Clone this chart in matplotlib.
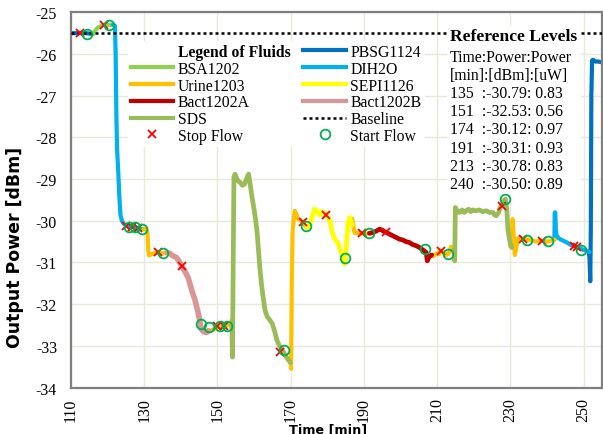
import matplotlib
matplotlib.use("Agg")
import matplotlib.pyplot as plt
from matplotlib.lines import Line2D
from matplotlib.patches import Rectangle

plt.rcParams['font.family'] = ['Liberation Serif', 'DejaVu Serif']
plt.rcParams['axes.unicode_minus'] = False

# --- traces, one list per run of the same fluid (time [min], power [dBm]) ---
pbsg_t = [[110.0, 112.0, 114.0, 116.0],
          [251.4, 251.6, 251.8, 251.95, 252.1, 252.3, 252.6, 253.2, 254.0, 255.0]]
pbsg_p = [[-25.5, -25.5, -25.5, -25.52],
          [-30.74, -30.9, -31.45, -30.2, -27.0, -26.15, -26.14, -26.18, -26.18, -26.2]]

bsa_t = [116.0, 116.8, 117.4, 118.2, 119.0, 119.8, 120.5, 121.4]
bsa_p = [-25.52, -25.42, -25.36, -25.33, -25.3, -25.3, -25.3, -25.3]

dih2o_t = [[121.4, 122.0, 122.2, 122.4, 122.6, 122.9, 123.2, 123.5, 123.9, 124.5,
            125.2, 126.2, 127.2, 128.2, 129.2, 129.9],
           [242.0, 242.1, 242.25, 242.4, 242.6, 243.2, 244.0, 245.0, 246.0, 247.0,
            248.0, 249.0, 250.0, 251.0, 251.6]]
dih2o_p = [[-25.3, -25.32, -26.0, -27.5, -28.3, -28.8, -29.4, -29.85, -30.0, -30.08,
            -30.12, -30.14, -30.15, -30.17, -30.2, -30.2],
           [-30.45, -29.8, -29.8, -30.2, -30.35, -30.42, -30.46, -30.5, -30.55, -30.6,
            -30.62, -30.66, -30.7, -30.72, -30.75]]

urine_t = [[129.8, 130.5, 130.9, 131.1, 131.3, 132.0, 133.0, 134.0, 135.0, 136.0, 136.5],
           [147.3, 148.0, 149.0, 150.0, 151.0, 152.0, 153.0, 153.8, 154.2],
           [169.9, 170.1, 170.3, 170.5, 170.8, 171.1, 171.6, 172.0, 172.6, 173.2, 173.8, 174.4],
           [186.8, 187.0, 187.3, 187.6, 188.0, 188.5, 189.0, 189.5, 190.0, 190.5, 191.0, 191.6],
           [208.5, 209.0, 209.5, 210.0, 210.5, 211.0, 211.5, 212.0, 212.5, 213.0, 213.5,
            213.8, 214.2, 214.6],
           [229.9, 230.2, 230.4, 230.6, 230.8, 231.0, 231.2, 231.5, 232.0, 233.0, 234.0,
            235.0, 236.0, 237.0, 238.0, 239.0, 240.0, 241.0, 242.1]]
urine_p = [[-30.2, -30.18, -30.3, -30.7, -30.83, -30.8, -30.77, -30.76, -30.78, -30.78, -30.76],
           [-32.62, -32.64, -32.6, -32.55, -32.53, -32.52, -32.5, -32.45, -32.4],
           [-33.3, -33.55, -31.5, -30.3, -30.0, -29.76, -29.85, -29.96, -29.98, -30.03, -30.1, -30.15],
           [-29.95, -30.05, -30.25, -30.3, -30.28, -30.3, -30.3, -30.3, -30.3, -30.32, -30.3, -30.3],
           [-30.82, -30.85, -30.8, -30.78, -30.8, -30.72, -30.75, -30.8, -30.82, -30.8, -30.72,
            -30.62, -30.65, -30.7],
           [-30.6, -30.64, -30.3, -29.96, -30.2, -30.6, -30.82, -30.7, -30.42, -30.42, -30.45,
            -30.45, -30.47, -30.5, -30.47, -30.48, -30.5, -30.48, -30.45]]

bact_b_t = [136.3, 137.0, 137.8, 138.8, 139.6, 140.2, 141.0, 142.0, 142.9, 143.8, 144.5,
            145.2, 145.6, 146.2, 147.0, 147.5]
bact_b_p = [-30.76, -30.78, -30.84, -30.88, -30.98, -31.08, -31.2, -31.36, -31.64, -31.88,
            -32.12, -32.4, -32.6, -32.66, -32.68, -32.64]

sds_t = [[153.9, 154.1, 154.3, 154.5, 154.8, 155.2, 155.7, 156.2, 156.8, 157.4, 158.0, 158.5,
          158.9, 159.3, 159.8, 160.3, 160.8, 161.2, 161.6, 162.0, 162.5, 163.0, 163.6, 164.3,
          165.0, 165.6, 166.2, 166.8, 167.5, 168.2, 168.9, 169.5, 169.9],
         [214.6, 214.8, 214.95, 215.2, 215.6, 216.1, 216.8, 217.4, 217.9, 218.6, 219.2, 219.7,
          220.5, 221.5, 222.4, 223.4, 224.3, 225.2, 225.7, 226.1, 226.8, 227.2, 227.7, 228.1,
          228.6, 229.0, 229.3, 229.9, 230.4]]
sds_p = [[-32.4, -33.27, -31.0, -28.95, -28.88, -28.98, -29.05, -29.08, -29.15, -29.12, -28.98,
          -28.88, -29.1, -29.35, -29.62, -29.9, -30.25, -30.7, -31.15, -31.5, -31.85, -32.15,
          -32.3, -32.38, -32.47, -32.65, -32.85, -32.98, -33.08, -33.17, -33.28, -33.35, -33.4],
         [-30.7, -30.96, -29.68, -29.72, -29.78, -29.8, -29.74, -29.8, -29.76, -29.72, -29.78,
          -29.74, -29.76, -29.74, -29.78, -29.76, -29.8, -29.8, -29.86, -29.88, -29.8, -29.68,
          -29.62, -29.52, -29.48, -29.72, -30.2, -30.52, -30.64]]

bact_a_t = [191.5, 192.5, 193.5, 194.3, 195.2, 196.1, 197.0, 197.9, 198.8, 199.7, 200.6,
            201.5, 202.4, 203.3, 204.3, 205.2, 206.1, 207.0, 207.3, 207.8, 208.5]
bact_a_p = [-30.3, -30.28, -30.24, -30.2, -30.24, -30.28, -30.32, -30.36, -30.4, -30.44,
            -30.46, -30.5, -30.52, -30.57, -30.6, -30.64, -30.7, -30.76, -30.96, -30.86, -30.82]

sepi_t = [174.4, 174.7, 175.6, 176.1, 176.5, 177.2, 177.9, 178.6, 179.3, 180.2, 180.8, 181.4,
          182.0, 182.9, 183.6, 184.3, 184.7, 185.0, 185.4, 185.7, 186.1, 186.4, 186.8]
sepi_p = [-30.15, -30.16, -30.0, -29.84, -29.72, -29.76, -29.86, -29.78, -29.81, -29.92,
          -30.04, -30.28, -30.44, -30.52, -30.72, -30.88, -31.04, -30.84, -30.36, -30.04,
          -29.92, -30.0, -30.1]

# --- flow events ---
stop_t = [112.5, 119.0, 125.0, 126.8, 128.3, 133.8, 140.2, 150.0, 151.8, 167.0, 173.3,
          179.7, 189.5, 196.1, 211.1, 227.7, 233.4, 238.6, 247.4, 248.3]
stop_p = [-25.5, -25.3, -30.12, -30.15, -30.18, -30.76, -31.08, -32.53, -32.52, -33.15,
          -30.04, -29.86, -30.3, -30.28, -30.72, -29.64, -30.44, -30.48, -30.6, -30.64]
start_t = [114.3, 120.4, 125.8, 127.6, 129.3, 135.0, 145.5, 147.6, 150.6, 152.5, 168.1,
           174.1, 184.9, 191.3, 206.8, 212.9, 228.6, 234.6, 240.2, 249.4]
start_p = [-25.52, -25.3, -30.14, -30.16, -30.2, -30.78, -32.47, -32.55, -32.53, -32.52,
           -33.1, -30.13, -30.89, -30.3, -30.68, -30.8, -29.48, -30.45, -30.49, -30.69]

baseline = -25.5

ref_time = [135, 151, 174, 191, 213, 240]
ref_dbm = [-30.79, -32.53, -30.12, -30.31, -30.78, -30.50]
ref_uw = [0.83, 0.56, 0.97, 0.93, 0.83, 0.89]

colors = {
    'BSA1202': '#92D050', 'Urine1203': '#FFC000', 'Bact1202A': '#C00000', 'SDS': '#9BBB59',
    'PBSG1124': '#0070C0', 'DIH2O': '#00B0F0', 'SEPI1126': '#FFFF00', 'Bact1202B': '#DA9694',
}

fig = plt.figure(figsize=(6.03, 4.35), dpi=100)
ax = fig.add_axes([0.1177, 0.1067, 0.8806, 0.8627])

lw = 3.0
kw = dict(solid_capstyle='round', solid_joinstyle='round', zorder=2)


def draw(ts, ps, name, width=lw):
    if not isinstance(ts[0], list):
        ts, ps = [ts], [ps]
    for t, p in zip(ts, ps):
        ax.plot(t, p, color=colors[name], lw=width, **kw)


draw(pbsg_t, pbsg_p, 'PBSG1124')
draw(bsa_t, bsa_p, 'BSA1202')
draw(dih2o_t, dih2o_p, 'DIH2O')
draw(urine_t, urine_p, 'Urine1203')
draw(bact_b_t, bact_b_p, 'Bact1202B', width=4.0)
draw(sds_t, sds_p, 'SDS', width=3.4)
draw(bact_a_t, bact_a_p, 'Bact1202A', width=3.4)
draw(sepi_t, sepi_p, 'SEPI1126', width=3.4)

ax.axhline(baseline, color='black', lw=1.8, ls=(0, (1.2, 1.2)), zorder=3)

ax.plot(stop_t, stop_p, ls='none', marker='x', ms=6, mew=1.3, color='#FF0000', zorder=4)
ax.plot(start_t, start_p, ls='none', marker='o', ms=7, mew=1.3, mfc='none',
        mec='#00B050', zorder=4)

ax.set_xlim(110, 255)
ax.set_ylim(-34, -25)
ax.set_xticks(range(110, 251, 20))
ax.set_yticks(range(-34, -24))
ax.tick_params(length=0, labelsize=11.5)
ax.tick_params(axis='x', rotation=90, pad=7)
ax.tick_params(axis='y', pad=10)
ax.grid(True, color='#EAE8DC', lw=1.0)
ax.set_axisbelow(True)
for s in ax.spines.values():
    s.set_color('#7F7F7F')
    s.set_linewidth(1.6)

ax.set_xlabel('Time [min]', family='DejaVu Sans', fontweight='bold', fontsize=9.2)
ax.xaxis.set_label_coords(0.484, -0.093)
ax.set_ylabel('Output Power [dBm]', family='DejaVu Sans', fontweight='bold', fontsize=12.5)
ax.yaxis.set_label_coords(-0.088, 0.376)

# legend: first row of column one acts as the heading
handles = [Line2D([], [], color='none')]
labels = ['Legend of Fluids']
for name in ['BSA1202', 'Urine1203', 'Bact1202A', 'SDS']:
    handles.append(Line2D([], [], color=colors[name], lw=3))
    labels.append(name)
handles.append(Line2D([], [], ls='none', marker='x', ms=6, mew=1.3, color='#FF0000'))
labels.append('Stop Flow')
for name in ['PBSG1124', 'DIH2O', 'SEPI1126', 'Bact1202B']:
    handles.append(Line2D([], [], color=colors[name], lw=3))
    labels.append(name)
handles.append(Line2D([], [], color='black', lw=1.8, ls=(0, (1.2, 1.2))))
labels.append('Baseline')
handles.append(Line2D([], [], ls='none', marker='o', ms=7, mew=1.3, mfc='none', mec='#00B050'))
labels.append('Start Flow')

leg = ax.legend(handles, labels, ncol=2, loc='upper left', bbox_to_anchor=(0.107, 0.924),
                fontsize=11.3, frameon=True, facecolor='white', edgecolor='none',
                framealpha=1, fancybox=False, handlelength=2.7, handletextpad=0.3,
                columnspacing=0.8, labelspacing=0.05, borderpad=0.2, borderaxespad=0)
leg.set_zorder(5)
leg.get_texts()[0].set_fontweight('bold')

# reference level table
ax.add_patch(Rectangle((0.708, 0.516), 0.252, 0.448, transform=ax.transAxes,
                       facecolor='white', edgecolor='none', zorder=5))
ax.text(0.7137, 0.938, 'Reference Levels', transform=ax.transAxes, fontsize=12.6,
        fontweight='bold', va='center', ha='left', zorder=6)
rows = ['Time:Power:Power', '[min]:[dBm]:[uW]']
rows += [f'{t}  :{d:.2f}: {u:.2f}' for t, d, u in zip(ref_time, ref_dbm, ref_uw)]
ax.text(0.7137, 0.712, '\n'.join(rows), transform=ax.transAxes, fontsize=11.3,
        va='center', ha='left', linespacing=1.18, zorder=6)

fig.savefig('out.png', dpi=100)
